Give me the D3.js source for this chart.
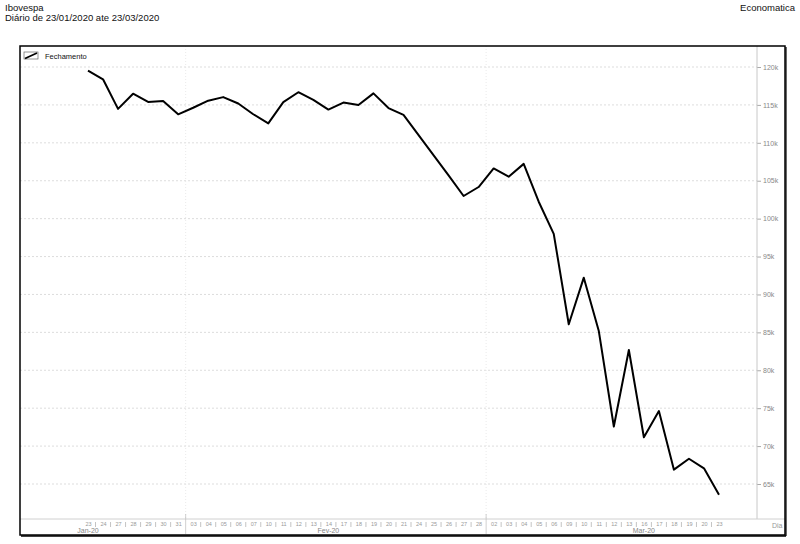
<!DOCTYPE html>
<html>
<head>
<meta charset="utf-8">
<script src="https://cdn.jsdelivr.net/npm/d3@7"></script>
<style>
  body { margin: 0; background: #fff; }
  svg { font-family: "Liberation Sans", Arial, sans-serif; }
</style>
</head>
<body>
<svg id="chart" width="800" height="544"></svg>
<script>
// trading days (Feb 24/25 = carnival, no close)
const dates = [
  "2020-01-23","2020-01-24","2020-01-27","2020-01-28","2020-01-29","2020-01-30","2020-01-31",
  "2020-02-03","2020-02-04","2020-02-05","2020-02-06","2020-02-07","2020-02-10","2020-02-11",
  "2020-02-12","2020-02-13","2020-02-14","2020-02-17","2020-02-18","2020-02-19","2020-02-20",
  "2020-02-21","2020-02-24","2020-02-25","2020-02-26","2020-02-27","2020-02-28",
  "2020-03-02","2020-03-03","2020-03-04","2020-03-05","2020-03-06","2020-03-09","2020-03-10",
  "2020-03-11","2020-03-12","2020-03-13","2020-03-16","2020-03-17","2020-03-18","2020-03-19",
  "2020-03-20","2020-03-23"
];
const fechamento = [
  119528, 118376, 114482, 116479, 115385, 115528, 113761,
  114629, 115557, 116028, 115190, 113770, 112570, 115371,
  116674, 115662, 114381, 115309, 114977, 116518, 114586,
  113681, null, null, 105718, 102984, 104172,
  106625, 105537, 107224, 102233, 97997, 86067, 92214,
  85171, 72583, 82678, 71168, 74617, 66895, 68332,
  67069, 63570
];
const yTicks = [65000, 70000, 75000, 80000, 85000, 90000, 95000, 100000, 105000, 110000, 115000, 120000];
const monthNames = ["Jan-20", "Fev-20", "Mar-20"];
const monthLabelDates = ["2020-01-23", "2020-02-14", "2020-03-16"];

const svg = d3.select("#chart");
const frame = { left: 20, top: 46, right: 785, bottom: 535 };
const axisX = 757, axisY = 519;

const x = d3.scalePoint().domain(dates).range([88, 719]);
const step = x.step();
const y = d3.scaleLinear().domain([65000, 120000]).range([484, 67]);

// titles
svg.append("text").attr("x", 5).attr("y", 11).attr("font-size", 9.5).attr("fill", "#111").text("Ibovespa");
svg.append("text").attr("x", 5).attr("y", 21).attr("font-size", 9.5).attr("fill", "#111")
  .text("Diário de 23/01/2020 ate 23/03/2020");
svg.append("text").attr("x", 795).attr("y", 11).attr("font-size", 9.5).attr("fill", "#111")
  .attr("text-anchor", "end").text("Economatica");

// horizontal grid
svg.append("g").selectAll("line").data(yTicks).join("line")
  .attr("x1", frame.left).attr("x2", axisX)
  .attr("y1", d => y(d)).attr("y2", d => y(d))
  .attr("stroke", "#d4d4d4").attr("stroke-width", 0.8).attr("stroke-dasharray", "2,2");

// month boundaries
const monthStarts = dates.filter((d, i) => i > 0 && d.slice(5, 7) !== dates[i - 1].slice(5, 7));
svg.append("g").selectAll("line").data(monthStarts).join("line")
  .attr("x1", d => x(d) - step / 2).attr("x2", d => x(d) - step / 2)
  .attr("y1", frame.top).attr("y2", axisY)
  .attr("stroke", "#e4e4e4").attr("stroke-width", 0.8).attr("stroke-dasharray", "1,2");

// y axis
const yAxis = d3.axisRight(y).tickValues(yTicks).tickSize(4)
  .tickFormat(d => (d / 1000) + "k");
const gy = svg.append("g").attr("transform", `translate(${axisX},0)`).call(yAxis);
gy.select(".domain").remove();
gy.selectAll(".tick line").attr("stroke", "#aaa");
gy.selectAll(".tick text").attr("fill", "#888").attr("font-size", 7).attr("x", 6)
  .attr("font-family", "Liberation Sans, Arial, sans-serif");
svg.append("line").attr("x1", axisX).attr("x2", axisX).attr("y1", frame.top).attr("y2", axisY)
  .attr("stroke", "#c8c8c8").attr("stroke-width", 1);

// x axis
svg.append("line").attr("x1", frame.left).attr("x2", frame.right).attr("y1", axisY).attr("y2", axisY)
  .attr("stroke", "#d0d0d0").attr("stroke-width", 1);
const xAxis = d3.axisBottom(x).tickSize(0).tickPadding(2).tickFormat(d => d.slice(8, 10));
const gx = svg.append("g").attr("transform", `translate(0,${axisY + 1})`).call(xAxis);
gx.select(".domain").remove();
gx.selectAll(".tick text").attr("fill", "#999").attr("font-size", 5.5)
  .attr("font-family", "Liberation Sans, Arial, sans-serif");

// separators between day labels
const gaps = dates.slice(1);
svg.append("g").selectAll("line").data(gaps).join("line")
  .attr("x1", d => x(d) - step / 2).attr("x2", d => x(d) - step / 2)
  .attr("y1", d => monthStarts.includes(d) ? axisY - 5 : axisY + 3)
  .attr("y2", d => monthStarts.includes(d) ? axisY + 15 : axisY + 8)
  .attr("stroke", d => monthStarts.includes(d) ? "#bbb" : "#aaa").attr("stroke-width", 0.7);

// month labels
svg.append("g").selectAll("text").data(monthNames).join("text")
  .attr("x", (d, i) => x(monthLabelDates[i]))
  .attr("y", axisY + 14)
  .attr("text-anchor", "middle").attr("font-size", 7).attr("fill", "#888")
  .text(d => d);

svg.append("text").attr("x", 772).attr("y", axisY + 9).attr("font-size", 7).attr("fill", "#999").text("Dia");

// series line (non-trading days skipped)
const points = dates.map((d, i) => ({ date: d, value: fechamento[i] })).filter(p => p.value != null);
const line = d3.line().x(p => x(p.date)).y(p => y(p.value));
svg.append("path").datum(points)
  .attr("d", line).attr("fill", "none").attr("stroke", "#000")
  .attr("stroke-width", 2).attr("stroke-linejoin", "round");

// legend
const lg = svg.append("g").attr("transform", "translate(24,52)");
lg.append("rect").attr("x", 0).attr("y", 0).attr("width", 14).attr("height", 7)
  .attr("fill", "#fff").attr("stroke", "#666").attr("stroke-width", 0.7);
lg.append("line").attr("x1", 1).attr("y1", 6.5).attr("x2", 13).attr("y2", 1)
  .attr("stroke", "#000").attr("stroke-width", 1.8);
lg.append("text").attr("x", 21).attr("y", 6.5).attr("font-size", 7.5).attr("fill", "#111").text("Fechamento");

// frame
svg.append("rect").attr("x", frame.left).attr("y", frame.top)
  .attr("width", frame.right - frame.left).attr("height", frame.bottom - frame.top)
  .attr("fill", "none").attr("stroke", "#000").attr("stroke-width", 1.5);
svg.append("line").attr("x1", frame.left + 1).attr("x2", frame.right + 1).attr("y1", frame.bottom + 1).attr("y2", frame.bottom + 1)
  .attr("stroke", "#000").attr("stroke-width", 1.5);
svg.append("line").attr("x1", frame.right + 1).attr("x2", frame.right + 1).attr("y1", frame.top + 1).attr("y2", frame.bottom + 1)
  .attr("stroke", "#000").attr("stroke-width", 1.2);
</script>
</body>
</html>
